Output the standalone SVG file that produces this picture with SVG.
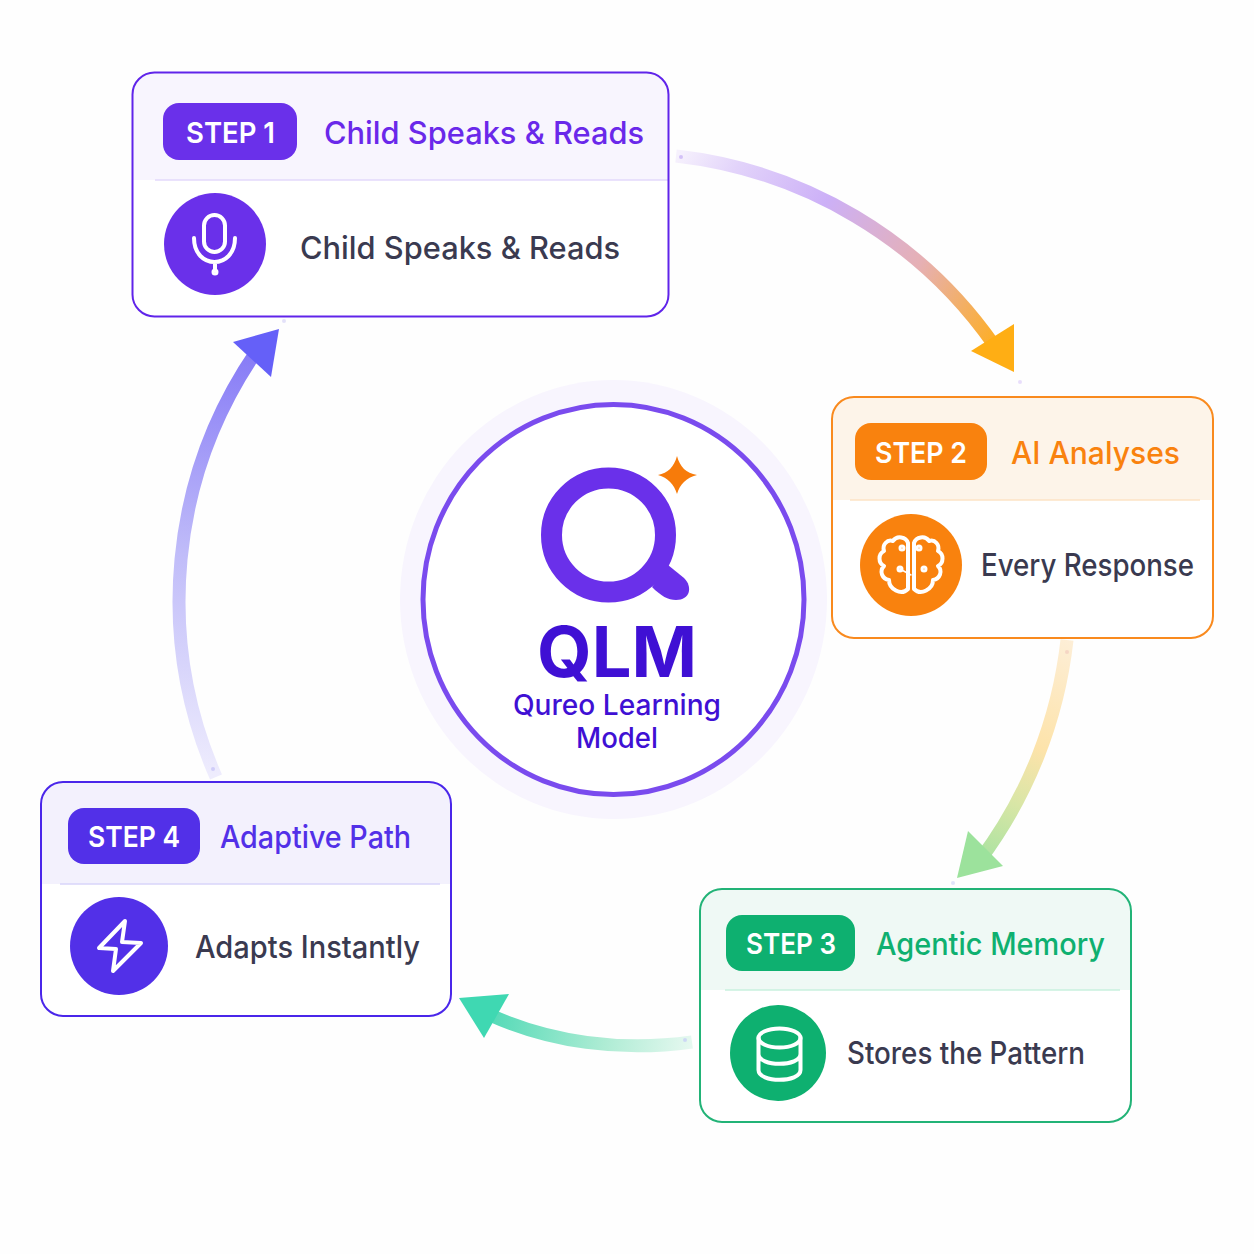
<svg xmlns="http://www.w3.org/2000/svg" width="1254" height="1254" viewBox="0 0 1254 1254">
<style>
text{font-family:"Inter","Liberation Sans",sans-serif}
.badge{font-size:29px;font-weight:600;fill:#fff;text-anchor:middle}
.title{font-size:31px;font-weight:500;stroke-width:.4;paint-order:stroke}
.desc{font-size:31px;font-weight:500;fill:#3a3a50}
.ic{fill:none;stroke:#fff;stroke-width:4;stroke-linecap:round;stroke-linejoin:round}
.arr{fill:none;stroke-width:13}
.dot{opacity:.8}
</style>
<defs>
<linearGradient id="g1" gradientUnits="userSpaceOnUse" x1="678" y1="156" x2="1000" y2="350"><stop offset="0" stop-color="#f6f1fd"/><stop offset=".15" stop-color="#e2d3fa"/><stop offset=".4" stop-color="#ccb0f7"/><stop offset=".7" stop-color="#e6b0b4"/><stop offset="1" stop-color="#ffae1a"/></linearGradient>
<linearGradient id="g2" gradientUnits="userSpaceOnUse" x1="1067" y1="640" x2="970" y2="865"><stop offset="0" stop-color="#fdeed6"/><stop offset=".45" stop-color="#fde3aa"/><stop offset=".7" stop-color="#d8e6a6"/><stop offset="1" stop-color="#a2e2a0"/></linearGradient>
<linearGradient id="g3" gradientUnits="userSpaceOnUse" x1="692" y1="1042" x2="480" y2="1010"><stop offset="0" stop-color="#e6f8f0"/><stop offset=".4" stop-color="#aeecd4"/><stop offset="1" stop-color="#4bd8b4"/></linearGradient>
<linearGradient id="g4" gradientUnits="userSpaceOnUse" x1="215" y1="775" x2="262" y2="345"><stop offset="0" stop-color="#eeecfd"/><stop offset=".5" stop-color="#c0bcf9"/><stop offset="1" stop-color="#8478f6"/></linearGradient>
</defs>
<rect width="1254" height="1254" fill="#fefefe"/>
<g id="connectors">
<path class="arr" stroke="url(#g1)" d="M676 156A450 450 0 0 1 994 345"/>
<path fill="#ffae14" d="M1014 372L971 351L1014 324Z"/>
<path class="arr" stroke="url(#g2)" d="M1067 640A452 452 0 0 1 980 860"/>
<path fill="#9ce29c" d="M957 878L968 831L1003 866Z"/>
<path class="arr" stroke="url(#g3)" d="M692 1042C620 1052 550 1042 490 1015"/>
<path fill="#3fd8b2" d="M459 998L509 994L484 1038Z"/>
<path class="arr" stroke="url(#g4)" d="M216 777A440 440 0 0 1 256 352"/>
<path fill="#6560f8" d="M279 329L233 342L271 377Z"/>
<g class="dot"><circle cx="681" cy="157" r="2" fill="#cbb5f5"/><circle cx="1020" cy="382" r="2" fill="#e2d6fa"/><circle cx="1067" cy="652" r="2" fill="#f2cfc0"/><circle cx="953" cy="883" r="2" fill="#d8dcfa"/><circle cx="685" cy="1040" r="2" fill="#c8d0f5"/><circle cx="213" cy="769" r="2" fill="#c8c6f7"/><circle cx="284" cy="321" r="2" fill="#dcdaf8"/></g>
</g>
<g id="center">
<ellipse cx="613.500" cy="599.500" rx="213.500" ry="219.500" fill="#f8f5fe"/>
<ellipse cx="613.500" cy="599.500" rx="190.500" ry="195" fill="#fff" stroke="#7a4bee" stroke-width="5"/>
<circle cx="608.500" cy="535" r="57" fill="none" stroke="#6a30ea" stroke-width="21"/>
<path fill="#6a30ea" d="M668 565L684 578C693 587 690 600 676 600C668 600 661 596 652 587Z"/>
<path fill="#f77b0a" d="M677 456C680 467 686 473 697 475C686 478 680 484 677 494C674 484 668 478 658 475C668 473 674 467 677 456Z"/>
<text x="617" y="677" text-anchor="middle" font-size="70" font-weight="700" fill="#3f10d4" textLength="160" lengthAdjust="spacingAndGlyphs">QLM</text>
<text x="617" y="715" text-anchor="middle" font-size="28" font-weight="500" fill="#3f10d4" textLength="208" lengthAdjust="spacingAndGlyphs">Qureo Learning</text>
<text x="617" y="748" text-anchor="middle" font-size="28" font-weight="500" fill="#3f10d4" textLength="82" lengthAdjust="spacingAndGlyphs">Model</text>
</g>
<g id="step1">
<rect x="132" y="72" width="537" height="245" rx="22" fill="#fff"/>
<path d="M132 180V94a22 22 0 0 1 22-22H647a22 22 0 0 1 22 22V180Z" fill="#f8f5fe"/>
<path d="M155 180H669" stroke="#e3d8fb" stroke-width="1.500"/>
<rect x="132.500" y="72.500" width="536" height="244" rx="22" fill="none" stroke="#6024ea" stroke-width="2"/>
<rect x="163" y="103" width="134" height="57" rx="16" fill="#6a30ea"/>
<text class="badge" x="230.500" y="143" textLength="89" lengthAdjust="spacingAndGlyphs">STEP 1</text>
<text class="title" x="324" y="144" fill="#6a28ea" textLength="320" lengthAdjust="spacingAndGlyphs">Child Speaks &amp; Reads</text>
<circle cx="215" cy="244" r="51" fill="#6a30ea"/>
<g class="ic"><rect x="204" y="215" width="21" height="37" rx="10.500"/><path d="M194 238c0 32 41 32 41 0M215 262v9"/><circle cx="215" cy="272" r="1.500"/></g>
<text class="desc" x="300" y="259" textLength="320" lengthAdjust="spacingAndGlyphs">Child Speaks &amp; Reads</text>
</g>
<g id="step2">
<rect x="832" y="397" width="381" height="241" rx="22" fill="#fff"/>
<path d="M832 500V419a22 22 0 0 1 22-22H1191a22 22 0 0 1 22 22V500Z" fill="#fdf4e9"/>
<path d="M850 500H1200" stroke="#fde3c4" stroke-width="1.500"/>
<rect x="832" y="397" width="381" height="241" rx="22" fill="none" stroke="#f98a1e" stroke-width="2"/>
<rect x="855" y="423" width="132" height="57" rx="16" fill="#f9820e"/>
<text class="badge" x="921" y="463" textLength="92" lengthAdjust="spacingAndGlyphs">STEP 2</text>
<text class="title" x="1011" y="464" fill="#f9820e" textLength="169" lengthAdjust="spacingAndGlyphs">AI Analyses</text>
<circle cx="911" cy="565" r="51" fill="#f9820e"/>
<g class="ic"><path d="M908 543C906 537 897 535 893 541C887 539 882 545 884 551C878 554 878 563 884 566C879 571 882 579 889 580C889 589 901 596 908 589ZM914 543C916 537 925 535 929 541C935 539 940 545 938 551C944 554 944 563 938 566C943 571 940 579 933 580C933 589 921 596 914 589Z"/><path d="M900 569L911 575" stroke-width="1.500"/><circle cx="902" cy="548" r="1.500"/><circle cx="919" cy="548" r="1.500"/><circle cx="900" cy="569" r="1.500"/><circle cx="924" cy="569" r="1.500"/></g>
<text class="desc" x="981" y="576" textLength="213" lengthAdjust="spacingAndGlyphs">Every Response</text>
</g>
<g id="step3">
<rect x="700" y="889" width="431" height="233" rx="22" fill="#fff"/>
<path d="M700 990V911a22 22 0 0 1 22-22H1109a22 22 0 0 1 22 22V990Z" fill="#eff9f5"/>
<path d="M725 990H1120" stroke="#c8f0de" stroke-width="1.500"/>
<rect x="700" y="889" width="431" height="233" rx="22" fill="none" stroke="#22b377" stroke-width="2"/>
<rect x="726" y="915" width="129" height="56" rx="16" fill="#0eb070"/>
<text class="badge" x="791" y="954" textLength="90" lengthAdjust="spacingAndGlyphs">STEP 3</text>
<text class="title" x="876" y="955" fill="#0eb070" textLength="229" lengthAdjust="spacingAndGlyphs">Agentic Memory</text>
<circle cx="778" cy="1053" r="48" fill="#0eb070"/>
<g class="ic"><ellipse cx="779.500" cy="1038" rx="21" ry="9.500"/><path d="M758.500 1038v32c0 13 42 13 42 0v-32M758.500 1054c0 13 42 13 42 0"/></g>
<text class="desc" x="847" y="1064" textLength="238" lengthAdjust="spacingAndGlyphs">Stores the Pattern</text>
</g>
<g id="step4">
<rect x="41" y="782" width="410" height="234" rx="22" fill="#fff"/>
<path d="M41 884V804a22 22 0 0 1 22-22H429a22 22 0 0 1 22 22V884Z" fill="#f3f1fd"/>
<path d="M60 884H440" stroke="#d9d5fa" stroke-width="1.500"/>
<rect x="41" y="782" width="410" height="234" rx="22" fill="none" stroke="#4a26ea" stroke-width="2"/>
<rect x="68" y="808" width="132" height="56" rx="16" fill="#5230e8"/>
<text class="badge" x="134" y="847" textLength="92" lengthAdjust="spacingAndGlyphs">STEP 4</text>
<text class="title" x="220" y="848" fill="#5230e8" textLength="191" lengthAdjust="spacingAndGlyphs">Adaptive Path</text>
<circle cx="119" cy="946" r="49" fill="#5230e8"/>
<path class="ic" d="M125 921L99 948L116 949L113 971L141 943L122 942Z"/>
<text class="desc" x="195" y="958" textLength="225" lengthAdjust="spacingAndGlyphs">Adapts Instantly</text>
</g>
</svg>
